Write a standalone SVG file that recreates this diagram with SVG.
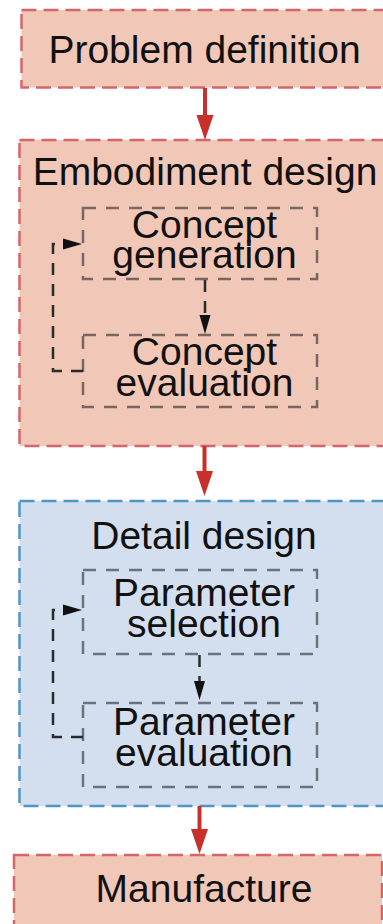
<svg xmlns="http://www.w3.org/2000/svg" width="383" height="924" viewBox="0 0 383 924">
  <style>
    .stage-red { fill: #f1c8b7; stroke: #d4666a; stroke-width: 2.5; stroke-dasharray: 15 7; }
    .stage-blue { fill: #d3dfef; stroke: #4f95c3; stroke-width: 2.5; stroke-dasharray: 15 7; }
    .step-red { fill: none; stroke: #7a6660; stroke-width: 2.5; stroke-dasharray: 13 10; }
    .step-blue { fill: none; stroke: #6c727a; stroke-width: 2.5; stroke-dasharray: 13 10; }
    .label { font-family: "Liberation Sans", Arial, sans-serif; font-size: 39px; fill: #111; text-anchor: middle; }
    .flow { fill: none; stroke: #c8302c; stroke-width: 4; }
    .loop { fill: none; stroke: #2b2b2b; stroke-width: 2.5; stroke-dasharray: 12 9; }
  </style>
  <defs>
    <marker id="head-red" markerUnits="userSpaceOnUse" markerWidth="25" markerHeight="17" refX="0" refY="8.5" orient="auto" overflow="visible">
      <path d="M0,0 L25,8.5 L0,17 z" fill="#c8302c"/>
    </marker>
    <marker id="head-black" markerUnits="userSpaceOnUse" markerWidth="19" markerHeight="11" refX="0" refY="5.5" orient="auto" overflow="visible">
      <path d="M0,0 L19,5.5 L0,11 z" fill="#111"/>
    </marker>
  </defs>

  <g id="problem-definition">
    <rect class="stage-red" x="21.5" y="10" width="372" height="77.5"/>
    <text class="label" x="204.5" y="63">Problem definition</text>
  </g>

  <g id="embodiment-design">
    <rect class="stage-red" x="19.5" y="140" width="374" height="306"/>
    <text class="label" x="205" y="185">Embodiment design</text>
  </g>

  <g id="concept-generation">
    <rect class="step-red" x="83" y="208" width="234" height="71"/>
    <text class="label" x="204.5" y="238">Concept</text>
    <text class="label" x="204.5" y="268">generation</text>
  </g>

  <g id="concept-evaluation">
    <rect class="step-red" x="83" y="335" width="234" height="72"/>
    <text class="label" x="204.5" y="365">Concept</text>
    <text class="label" x="204.5" y="396">evaluation</text>
  </g>

  <g id="detail-design">
    <rect class="stage-blue" x="19.5" y="501" width="374" height="305"/>
    <text class="label" x="204" y="549">Detail design</text>
  </g>

  <g id="parameter-selection">
    <rect class="step-blue" x="83" y="570" width="234" height="84"/>
    <text class="label" x="204" y="606">Parameter</text>
    <text class="label" x="204" y="637">selection</text>
  </g>

  <g id="parameter-evaluation">
    <rect class="step-blue" x="83" y="703" width="234" height="84"/>
    <text class="label" x="204" y="735">Parameter</text>
    <text class="label" x="204" y="766">evaluation</text>
  </g>

  <g id="manufacture">
    <rect class="stage-red" x="14" y="855" width="368" height="90"/>
    <text class="label" x="204" y="902">Manufacture</text>
  </g>

  <g id="connectors">
    <!-- stage to stage -->
    <path class="flow" d="M205,88 V115" marker-end="url(#head-red)"/>
    <path class="flow" d="M204.5,446 V471" marker-end="url(#head-red)"/>
    <path class="flow" d="M199.5,806 V829" marker-end="url(#head-red)"/>
    <!-- concept loop -->
    <path class="loop" d="M205,280 V315" marker-end="url(#head-black)"/>
    <path class="loop" d="M83,371 H53 V244 H63" marker-end="url(#head-black)"/>
    <!-- parameter loop -->
    <path class="loop" d="M199.5,655 V681" marker-end="url(#head-black)"/>
    <path class="loop" d="M83,737 H53 V610 H63" marker-end="url(#head-black)"/>
  </g>
</svg>
